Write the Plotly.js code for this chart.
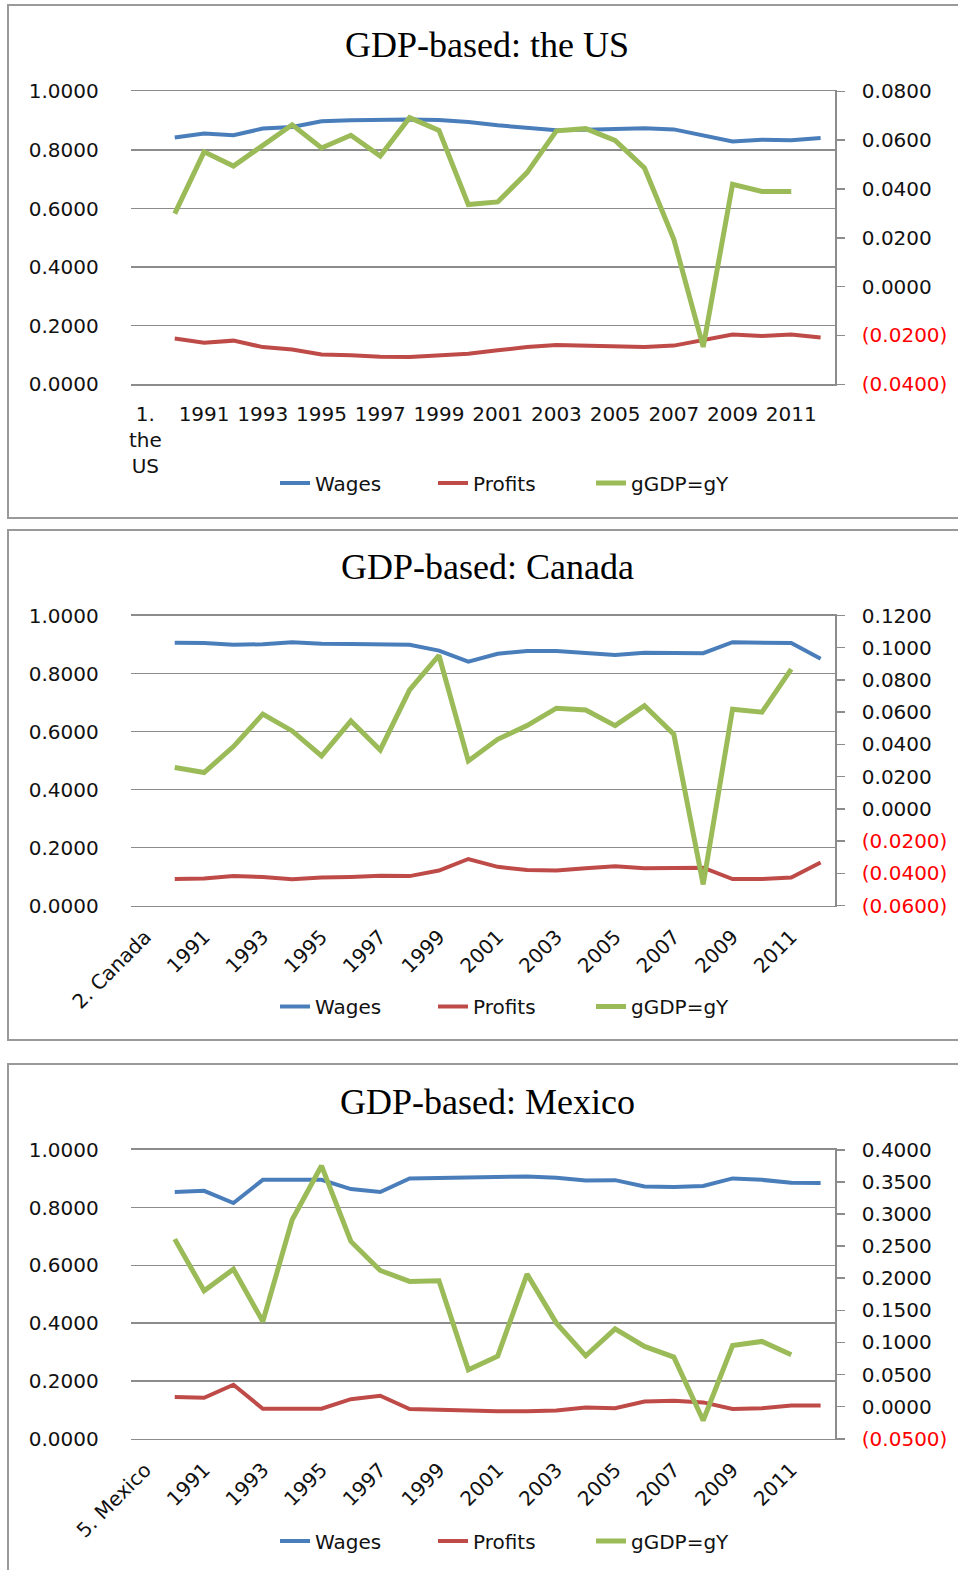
<!DOCTYPE html>
<html>
<head>
<meta charset="utf-8">
<script src="https://cdn.plot.ly/plotly-3.0.1.min.js"></script>
<style>html,body{margin:0;padding:0;background:#fff;}#chart{width:958px;height:1570px;}</style>
</head>
<body>
<div id="chart"></div>
<script>
// ---------- data ----------
const years = ['1990','1991','1992','1993','1994','1995','1996','1997','1998','1999','2000','2001','2002','2003','2004','2005','2006','2007','2008','2009','2010','2011','2012'];
const seriesNames = ['Wages', 'Profits', 'gGDP=gY'];

const usTitle = 'GDP-based: the US';
const usFirstLabel = '1. the US';
const usFirstLabelText = '1.<br>the<br>US';
const usWages   = [0.842,0.856,0.850,0.873,0.878,0.898,0.901,0.904,0.904,0.902,0.895,0.884,0.875,0.867,0.869,0.870,0.874,0.870,0.850,0.829,0.835,0.833,0.841];
const usProfits = [0.156,0.142,0.149,0.127,0.119,0.102,0.099,0.094,0.093,0.097,0.104,0.116,0.127,0.134,0.131,0.130,0.127,0.132,0.150,0.170,0.165,0.170,0.160];
const usGrowth  = [0.0299,0.0552,0.0494,0.0579,0.0663,0.0568,0.0620,0.0535,0.0692,0.0640,0.0336,0.0347,0.0467,0.0638,0.0647,0.0599,0.0486,0.0194,-0.0247,0.0419,0.0390,0.0390];
const usRightTicks = [-0.04,-0.02,0,0.02,0.04,0.06,0.08];

const caTitle = 'GDP-based: Canada';
const caFirstLabel = '2. Canada';
const caFirstLabelText = '2. Canada';
const caWages   = [0.906,0.905,0.899,0.901,0.908,0.903,0.902,0.899,0.899,0.879,0.841,0.868,0.878,0.878,0.870,0.864,0.872,0.870,0.870,0.908,0.908,0.905,0.851];
const caProfits = [0.092,0.094,0.102,0.099,0.091,0.097,0.099,0.103,0.102,0.121,0.161,0.134,0.123,0.121,0.129,0.136,0.129,0.131,0.131,0.092,0.092,0.097,0.149];
const caGrowth  = [0.0257,0.0226,0.0387,0.0588,0.0484,0.0329,0.0546,0.0366,0.0739,0.0952,0.0298,0.0432,0.0517,0.0625,0.0614,0.0517,0.0641,0.0463,-0.0468,0.0619,0.0600,0.0867];
const caRightTicks = [-0.06,-0.04,-0.02,0,0.02,0.04,0.06,0.08,0.10,0.12];

const mxTitle = 'GDP-based: Mexico';
const mxFirstLabel = '5. Mexico';
const mxFirstLabelText = '5. Mexico';
const mxWages   = [0.854,0.858,0.816,0.896,0.896,0.896,0.864,0.854,0.901,0.903,0.904,0.908,0.908,0.903,0.894,0.895,0.873,0.871,0.875,0.901,0.896,0.886,0.885];
const mxProfits = [0.145,0.142,0.187,0.104,0.104,0.104,0.137,0.149,0.103,0.100,0.098,0.095,0.095,0.098,0.108,0.106,0.129,0.132,0.126,0.103,0.106,0.115,0.115];
const mxGrowth  = [0.2609,0.1804,0.2142,0.1327,0.2910,0.3751,0.2573,0.2121,0.1950,0.1960,0.0574,0.0787,0.2064,0.1301,0.0792,0.1213,0.0938,0.0772,-0.0215,0.0953,0.1016,0.0808];
const mxRightTicks = [-0.05,0,0.05,0.10,0.15,0.20,0.25,0.30,0.35,0.40];

const leftTicks = [0,0.2,0.4,0.6,0.8,1.0];

// ---------- layout helpers ----------
const W = 958, H = 1570;
const py = p => 1 - p / H;
const px = p => p / W;
const colors = ['#4A7EBB', '#BE4B48', '#9BBB59'];
const widths = [4, 4, 5];
const sans = 'DejaVu Sans, sans-serif';
const serif = 'Liberation Serif, Times New Roman, serif';
const gridColor = '#8c8c8c';

function fmtRight(v) {
  const s = Math.abs(v).toFixed(4);
  return v < -1e-9 ? '<span style="color:#ff0000">(' + s + ')</span>' : s;
}

const panels = [
  {title: usTitle, first: usFirstLabel, firstText: usFirstLabelText, data: [usWages, usProfits, usGrowth], rticks: usRightTicks,
   top: 91.3, bottom: 384.3, titleY: 44, legendY: 483, boxTop: 5, boxBottom: 518, angle: 0, xstand: 11},
  {title: caTitle, first: caFirstLabel, firstText: caFirstLabelText, data: [caWages, caProfits, caGrowth], rticks: caRightTicks,
   top: 615.5, bottom: 905.7, titleY: 567, legendY: 1006.5, boxTop: 530, boxBottom: 1040, angle: -45, xstand: 10},
  {title: mxTitle, first: mxFirstLabel, firstText: mxFirstLabelText, data: [mxWages, mxProfits, mxGrowth], rticks: mxRightTicks,
   top: 1149.8, bottom: 1438.8, titleY: 1102, legendY: 1541, boxTop: 1064, boxBottom: 1580, angle: -45, xstand: 10}
];

const traces = [];
const layout = {
  width: W, height: H,
  margin: {l: 0, r: 0, t: 0, b: 0},
  paper_bgcolor: '#ffffff', plot_bgcolor: 'rgba(0,0,0,0)',
  showlegend: true,
  annotations: [], shapes: []
};

panels.forEach((p, i) => {
  const xa = i === 0 ? 'x' : 'x' + (i + 1);
  const yl = i === 0 ? 'y' : 'y' + (2 * i + 1);
  const yr = 'y' + (2 * i + 2);
  const legendName = i === 0 ? 'legend' : 'legend' + (i + 1);
  const cats = [p.first].concat(years);
  const tickvals = cats.filter((c, k) => k % 2 === 0);
  const ticktext = tickvals.map((c, k) => k === 0 ? p.firstText : c);

  p.data.forEach((arr, s) => {
    traces.push({
      type: 'scatter', mode: 'lines',
      x: years.slice(0, arr.length), y: arr,
      name: seriesNames[s],
      xaxis: xa, yaxis: s === 2 ? yr : yl,
      line: {color: colors[s], width: widths[s]},
      legend: legendName,
      hoverinfo: 'skip'
    });
  });

  const xKey = i === 0 ? 'xaxis' : 'xaxis' + (i + 1);
  const ylKey = i === 0 ? 'yaxis' : 'yaxis' + (2 * i + 1);
  const yrKey = 'yaxis' + (2 * i + 2);

  layout[xKey] = {
    domain: [px(130.7), px(835.3)], anchor: yl,
    type: 'category', categoryorder: 'array', categoryarray: cats,
    range: [-0.5, cats.length - 0.5],
    tickmode: 'array', tickvals: tickvals, ticktext: ticktext,
    tickangle: p.angle, ticks: '', showgrid: false, zeroline: false,
    showline: true, mirror: true, linecolor: gridColor, linewidth: 1.5,
    tickfont: {family: sans, size: 20, color: '#111'},
    ticklabelstandoff: p.xstand, fixedrange: true
  };
  layout[ylKey] = {
    domain: [py(p.bottom), py(p.top)], anchor: xa,
    range: [0, 1], tickmode: 'array', tickvals: leftTicks, tickformat: '.4f',
    showgrid: true, gridcolor: gridColor, gridwidth: 1.5, zeroline: false, showline: false, ticks: '',
    tickfont: {family: sans, size: 20, color: '#111'},
    ticklabelstandoff: 31, fixedrange: true
  };
  layout[yrKey] = {
    overlaying: yl, side: 'right', anchor: xa,
    range: [p.rticks[0], p.rticks[p.rticks.length - 1]],
    tickmode: 'array', tickvals: p.rticks, ticktext: p.rticks.map(fmtRight),
    showgrid: false, zeroline: false,
    showline: true, linecolor: gridColor, linewidth: 1.5,
    ticks: 'outside', ticklen: 8, tickcolor: gridColor, tickwidth: 1.5,
    tickfont: {family: sans, size: 20, color: '#111'},
    ticklabelstandoff: 13, fixedrange: true
  };
  layout[legendName] = {
    orientation: 'h', x: px(275), xanchor: 'left', y: py(p.legendY), yanchor: 'middle',
    font: {family: sans, size: 20, color: '#111'},
    entrywidth: 113, entrywidthmode: 'pixels',
    bgcolor: 'rgba(0,0,0,0)', borderwidth: 0, itemclick: false, itemdoubleclick: false
  };

  if (i === 0) {
    layout.title = {text: p.title, font: {family: serif, size: 36, color: '#000'},
      x: px(487), xanchor: 'center', xref: 'paper', y: py(p.titleY), yanchor: 'middle', yref: 'paper'};
  } else {
    layout.annotations.push({text: p.title, font: {family: serif, size: 36, color: '#000'},
      x: px(487), xanchor: 'center', xref: 'paper', y: py(p.titleY), yanchor: 'middle', yref: 'paper', showarrow: false});
  }
  layout.shapes.push({type: 'rect', xref: 'paper', yref: 'paper', layer: 'below',
    x0: px(8), x1: px(975), y0: py(p.boxBottom), y1: py(p.boxTop),
    line: {color: '#9a9a9a', width: 2}, fillcolor: 'rgba(0,0,0,0)'});
});

Plotly.newPlot('chart', traces, layout, {displayModeBar: false, staticPlot: true});
</script>
</body>
</html>
